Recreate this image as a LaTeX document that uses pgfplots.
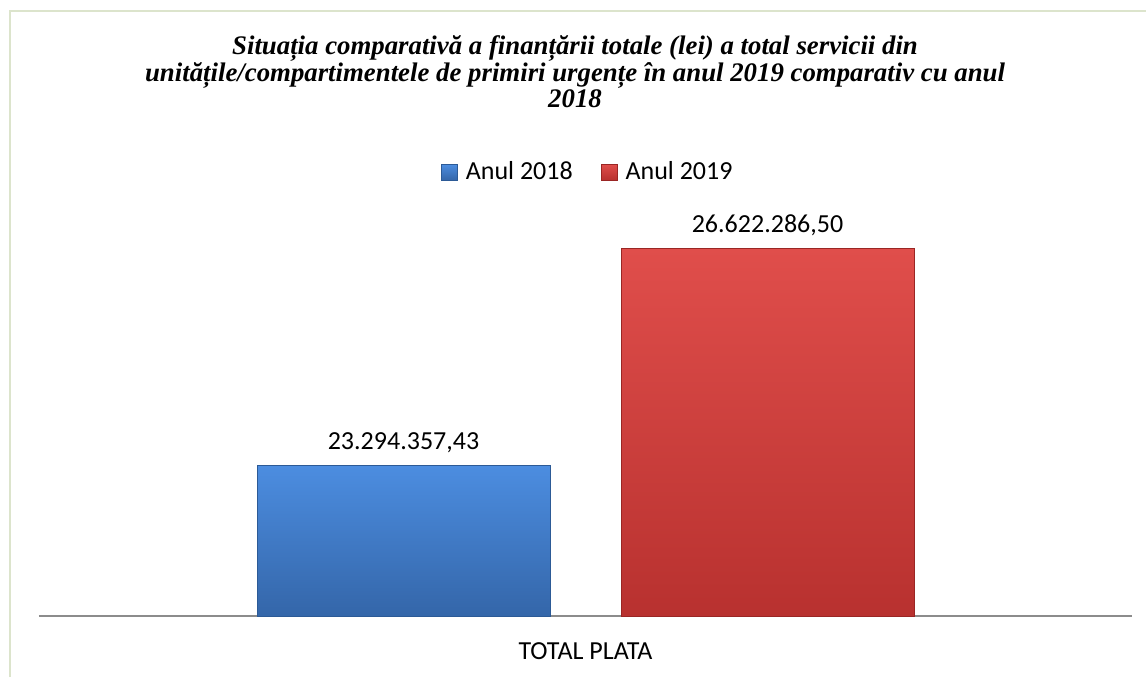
\documentclass[border=0pt]{standalone}
\usepackage{pgfplots}
\pgfplotsset{compat=1.18}
\usepackage{fontspec}
\setmainfont{Carlito}
\newfontfamily\titlefont{Liberation Serif}

\definecolor{frame}{HTML}{DCE4CC}
\definecolor{axisgray}{HTML}{8C8C8C}
\definecolor{bluetop}{HTML}{4C8DE0}
\definecolor{bluebot}{HTML}{3466A9}
\definecolor{bluedark}{HTML}{2C5A96}
\definecolor{redtop}{HTML}{E04E4B}
\definecolor{redbot}{HTML}{B8312F}
\definecolor{reddark}{HTML}{9A2624}

\begin{document}
\begin{tikzpicture}
% 1 px of the reference = 0.5pt
\useasboundingbox (0,0) rectangle (573pt,338.5pt);
\draw[frame, line width=1pt] (4.75pt,0) -- (4.75pt,333pt) -- (573pt,333pt);

\node[font=\titlefont\bfseries\itshape\fontsize{13.4}{13.25}\selectfont, align=center, anchor=center]
  at (287.5pt,302.5pt)
  {Situația comparativă a finanțării totale (lei) a total servicii din\\
   unitățile/compartimentele de primiri urgențe în anul 2019 comparativ cu anul\\
   2018};

\begin{axis}[
    at={(19.5pt,30.5pt)}, anchor=south west,
    scale only axis,
    width=546.5pt, height=196.35pt,
    xmin=-1, xmax=1,
    ymin=21000000, ymax=27000000,
    axis y line=none,
    axis x line*=bottom,
    x axis line style={-, axisgray, line width=1pt},
    xtick={0}, xticklabels={TOTAL PLATA},
    major tick length=0pt,
    xticklabel style={font=\fontsize{13}{15}\selectfont, anchor=base, yshift=-21.5pt},
    ybar=35.5pt, bar width=146.5pt,
    point meta=explicit symbolic,
    nodes near coords,
    every node near coord/.append style={font=\fontsize{13}{15}\selectfont, anchor=base, yshift=8pt},
    legend columns=2,
    legend style={at={(0.503,1.1306)}, anchor=center, draw=none, fill=none,
      font=\fontsize{13}{15}\selectfont,
      /tikz/every odd column/.append style={column sep=2pt},
      /tikz/every even column/.append style={column sep=12pt}},
    legend cell align=left,
    clip=false,
]
\addplot[draw=bluedark, line width=0.4pt, top color=bluetop, bottom color=bluebot,
  legend image code/.code={\draw[draw=bluedark, top color=bluetop, bottom color=bluebot] (0pt,-4pt) rectangle (8pt,4pt);}]
  coordinates {(0,23294357.43) [23.294.357,43]};
\addlegendentry{Anul 2018}
\addplot[draw=reddark, line width=0.4pt, top color=redtop, bottom color=redbot,
  legend image code/.code={\draw[draw=reddark, top color=redtop, bottom color=redbot] (0pt,-4pt) rectangle (8pt,4pt);}]
  coordinates {(0,26622286.50) [26.622.286,50]};
\addlegendentry{Anul 2019}
\end{axis}
\end{tikzpicture}
\end{document}
